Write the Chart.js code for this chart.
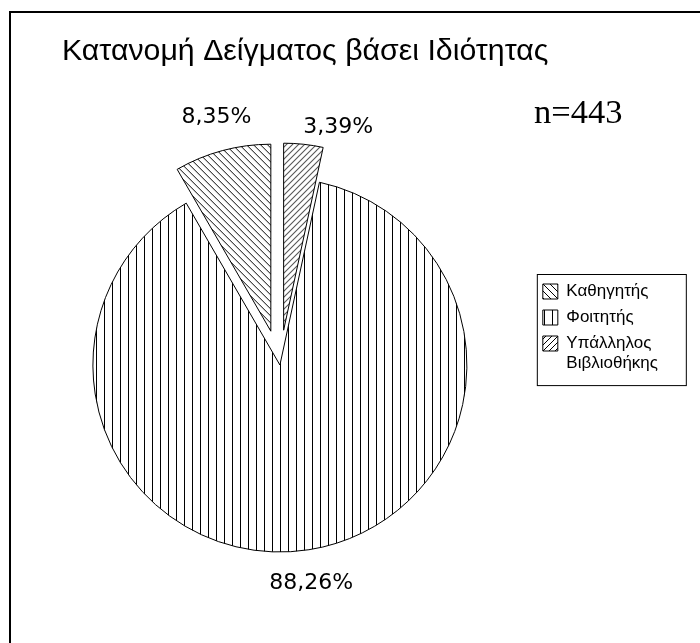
<!DOCTYPE html>
<html>
<head>
<meta charset="utf-8">
<script src="https://cdn.jsdelivr.net/npm/chart.js@4/dist/chart.umd.min.js"></script>
<style>
  html, body { margin: 0; padding: 0; background: #fff; }
  canvas { display: block; }
</style>
</head>
<body>
<canvas id="roleChart" width="700" height="643"></canvas>
<script>
// categories in drawing order (clockwise from 12 o'clock)
const categories = [["Υπάλληλος", "Βιβλιοθήκης"], "Φοιτητής", "Καθηγητής"];
const shares = [3.39, 88.26, 8.35];
const exploded = [true, false, true];
const chartTitle = "Κατανομή Δείγματος βάσει Ιδιότητας";
const sampleSize = 443;

const pieRadius = 187;
const explodeOffset = 140; // chart.js moves the slice by offset / 4

const makePattern = (kind) => {
  const size = kind === "vertical" ? 8 : kind === "back" ? 7 : 6;
  const c = document.createElement("canvas");
  c.width = size;
  c.height = size;
  const g = c.getContext("2d");
  g.fillStyle = "#fff";
  g.fillRect(0, 0, size, size);
  g.strokeStyle = "#000";
  g.lineWidth = 1;
  g.beginPath();
  if (kind === "vertical") {
    g.moveTo(0.5, 0);
    g.lineTo(0.5, size);
  } else if (kind === "back") {
    g.moveTo(-1, -1);
    g.lineTo(size + 1, size + 1);
    g.moveTo(-1, size - 1);
    g.lineTo(1, size + 1);
    g.moveTo(size - 1, -1);
    g.lineTo(size + 1, 1);
  } else {
    g.moveTo(-1, size + 1);
    g.lineTo(size + 1, -1);
    g.moveTo(-1, 1);
    g.lineTo(1, -1);
    g.moveTo(size - 1, size + 1);
    g.lineTo(size + 1, size - 1);
  }
  g.stroke();
  return g.createPattern(c, "repeat");
};

const fills = [makePattern("forward"), makePattern("vertical"), makePattern("back")];

const fmt = (v) => v.toFixed(2).replace(".", ",") + "%";

// keep exploded slices at the same radius and angle as in the main pie
const keepRadius = {
  id: "keepRadius",
  afterDatasetUpdate(chart, args) {
    args.meta.data.forEach((arc) => {
      const off = (arc.options.offset || 0) / 4;
      const fix = 1 - Math.sin(Math.min(Math.PI, arc.circumference || 0));
      const grow = off * fix;
      arc.outerRadius = pieRadius - grow;
      const widen = grow / Math.PI / pieRadius / 2;
      arc.startAngle -= widen;
      arc.endAngle += widen;
    });
  },
};

const decorations = {
  id: "decorations",
  beforeDraw(chart) {
    const ctx = chart.ctx;
    ctx.save();
    ctx.fillStyle = "#fff";
    ctx.fillRect(0, 0, chart.width, chart.height);
    ctx.strokeStyle = "#000";
    ctx.lineWidth = 2;
    ctx.beginPath();
    ctx.moveTo(10, chart.height + 5);
    ctx.lineTo(10, 12);
    ctx.lineTo(chart.width + 5, 12);
    ctx.stroke();
    ctx.restore();
  },
  afterDraw(chart) {
    const ctx = chart.ctx;
    ctx.save();
    ctx.fillStyle = "#000";
    ctx.textBaseline = "alphabetic";
    ctx.font = '30.3px "Liberation Sans", Arial, sans-serif';
    ctx.fillText(chartTitle, 62, 60);
    ctx.font = '34.5px "Liberation Serif", "Times New Roman", serif';
    ctx.fillText("n=" + sampleSize, 534, 123);

    // slice percentages
    const nudge = [[31, 17], [-3, 0], [3, 0]];
    ctx.font = '22px "DejaVu Sans", sans-serif';
    ctx.textAlign = "center";
    ctx.textBaseline = "middle";
    chart.getDatasetMeta(0).data.forEach((arc, i) => {
      const mid = (arc.startAngle + arc.endAngle) / 2;
      const dist = (arc.options.offset || 0) / 4 + pieRadius + 34;
      ctx.fillText(fmt(shares[i]), arc.x + Math.cos(mid) * dist + nudge[i][0], arc.y + Math.sin(mid) * dist + nudge[i][1]);
    });

    // frame round the legend
    const lg = chart.legend;
    const boxes = lg.legendHitBoxes;
    const top = Math.min(...boxes.map((b) => b.top));
    const bottom = Math.max(...boxes.map((b) => b.top + b.height));
    const left = Math.min(...boxes.map((b) => b.left));
    ctx.strokeStyle = "#000";
    ctx.lineWidth = 1;
    ctx.strokeRect(left - 5.5, top - 8.5, 149, bottom - top + 20);
    ctx.restore();
  },
};

const ctx = document.getElementById("roleChart").getContext("2d");
const roleChart = new Chart(ctx, {
  type: "pie",
  data: {
    labels: categories,
    datasets: [
      {
        data: shares,
        backgroundColor: fills,
        borderColor: "#000",
        borderWidth: 1,
        offset: exploded.map((e) => (e ? explodeOffset : 0)),
        radius: pieRadius,
        clip: false,
      },
    ],
  },
  options: {
    responsive: false,
    animation: false,
    layout: { padding: { left: 26, right: 32, top: 274, bottom: 187 } },
    plugins: {
      tooltip: { enabled: false },
      legend: {
        display: true,
        position: "right",
        align: "start",
        reverse: true,
        labels: {
          boxWidth: 15,
          boxHeight: 15,
          padding: 9,
          color: "#000",
          font: { family: '"Liberation Sans", Arial, sans-serif', size: 17, lineHeight: 1.15 },
        },
      },
    },
  },
  plugins: [keepRadius, decorations],
});
</script>
</body>
</html>
